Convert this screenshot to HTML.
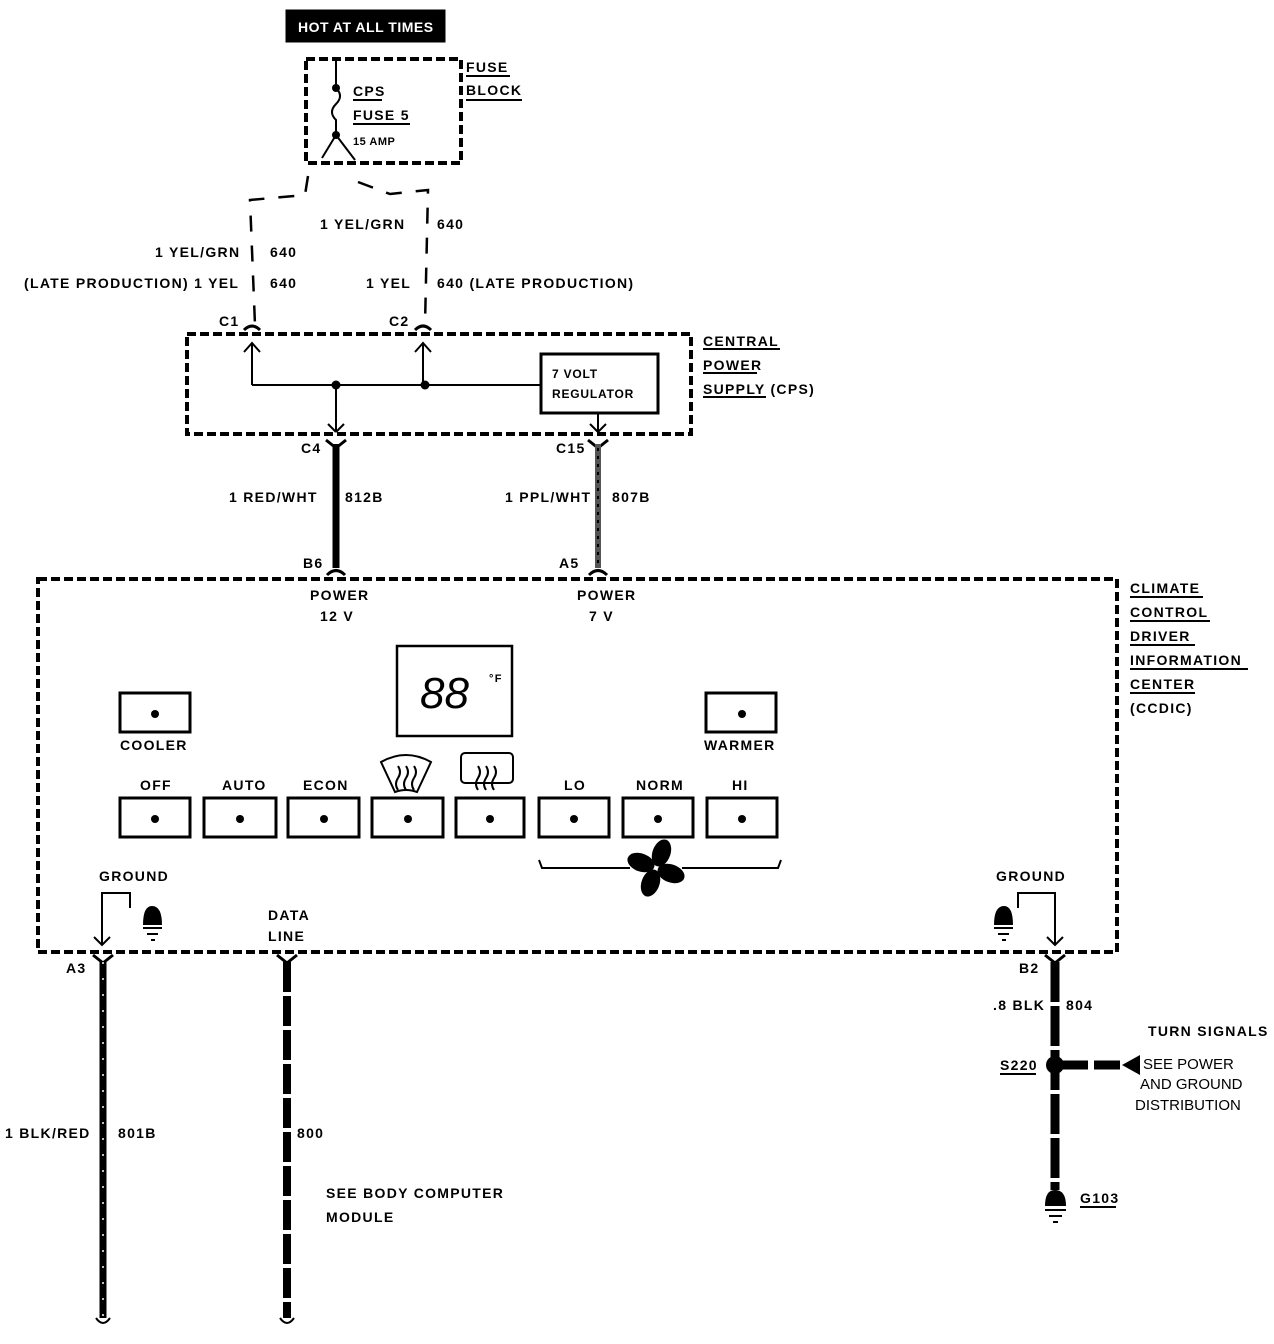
<!DOCTYPE html>
<html><head><meta charset="utf-8"><style>
html,body{margin:0;padding:0;background:#fff;}
svg{display:block}
text{font-family:"Liberation Sans",sans-serif;font-weight:bold;font-size:14px;letter-spacing:1.3px;fill:#000}
.n{font-weight:normal;font-size:15px;letter-spacing:0}
</style></head><body>
<svg width="1274" height="1344" viewBox="0 0 1274 1344" xmlns="http://www.w3.org/2000/svg">
<g fill="none" stroke="#000">
<rect x="286" y="10" width="159" height="32" fill="#000"/>
<rect x="306" y="59" width="155" height="104" stroke-width="4" stroke-dasharray="9,4"/>
<path d="M336 59 V88 M336 88 q8 8 0 16 q-8 8 0 16 V135 M336 135 L322 158 M336 135 L355 160" stroke-width="2"/>
<path d="M466 76 H510 M466 100 H522 M353 100 H382 M353 124 H410" stroke-width="2"/>
<path d="M308 176 L305 195 L250 200 L255 325 M358 182 L390 194 L428 190 L425 325" stroke-width="2.5" stroke-dasharray="16,14"/>
<path d="M244 330 q8 -8 16 0 M415 330 q8 -8 16 0" stroke-width="3"/>
<rect x="187" y="334" width="504" height="100" stroke-width="4" stroke-dasharray="9,4"/>
<path d="M252 385 V343 M244 352 L252 343 L260 352 M423 385 V343 M415 352 L423 343 L431 352 M252 385 H541 M336 385 V432 M328 424 L336 432 M344 424 L336 432 M598 413 V432 M590 424 L598 432 M606 424 L598 432" stroke-width="2"/>
<rect x="541" y="354" width="117" height="59" stroke-width="3"/>
<path d="M703 349 H780 M703 373 H757 M703 397 H766" stroke-width="2"/>
<path d="M326 440 L336 448 L346 440 M588 440 L598 448 L608 440" stroke-width="3"/>
<path d="M336 444 V568" stroke-width="7"/>
<path d="M598 444 V568" stroke="#555" stroke-width="6"/>
<path d="M598 448 V568" stroke="#000" stroke-width="2" stroke-dasharray="3,5"/>
<path d="M327 575 q9 -9 18 0 M589 575 q9 -9 18 0" stroke-width="3"/>
<rect x="38" y="579" width="1079" height="373" stroke-width="4" stroke-dasharray="9,4"/>
<path d="M1130 597 H1203 M1130 621 H1210 M1130 645 H1195 M1130 669 H1248 M1130 693 H1195" stroke-width="2"/>
<rect x="397" y="646" width="115" height="90" stroke-width="2.5"/>
<rect x="120" y="693" width="70" height="39" stroke-width="3"/>
<rect x="706" y="693" width="70" height="39" stroke-width="3"/>
<rect x="120" y="798" width="70" height="39" stroke-width="3"/>
<rect x="204" y="798" width="72" height="39" stroke-width="3"/>
<rect x="288" y="798" width="71" height="39" stroke-width="3"/>
<rect x="372" y="798" width="71" height="39" stroke-width="3"/>
<rect x="456" y="798" width="68" height="39" stroke-width="3"/>
<rect x="539" y="798" width="70" height="39" stroke-width="3"/>
<rect x="623" y="798" width="70" height="39" stroke-width="3"/>
<rect x="707" y="798" width="70" height="39" stroke-width="3"/>
<path d="M381 762 Q406 748 431 762 L417 792 Q406 788 395 792 Z" stroke-width="2"/>
<rect x="461" y="753" width="52" height="30" rx="4" stroke-width="2"/>
<path d="M398 790 q-4 -6 0 -12 q4 -6 0 -12 M406 790 q-4 -6 0 -12 q4 -6 0 -12 M414 790 q-4 -6 0 -12 q4 -6 0 -12 M478 790 q-4 -6 0 -12 q4 -6 0 -12 M486 790 q-4 -6 0 -12 q4 -6 0 -12 M494 790 q-4 -6 0 -12 q4 -6 0 -12" stroke-width="2"/>
<path d="M539 860 L542 868 H630 M682 868 H778 L781 860" stroke-width="2"/>
<path d="M102 945 V893 H130 V908 M94 937 L102 945 L110 937 M1055 945 V893 H1018 V908 M1047 937 L1055 945 L1063 937" stroke-width="2"/>
<path d="M143 928 H162 M147 934 H158 M151 940 H155 M994 928 H1013 M998 934 H1009 M1002 940 H1006 M1045 1210 H1066 M1049 1216 H1062 M1053 1222 H1058" stroke-width="2"/>
<path d="M93 955 L103 963 L113 955 M277 955 L287 963 L297 955 M1045 955 L1055 963 L1065 955" stroke-width="3"/>
<path d="M103 962 V1318" stroke-width="7"/>
<path d="M103 962 V1318" stroke="#fff" stroke-width="1.5" stroke-dasharray="2,14"/>
<path d="M287 962 V1318" stroke-width="8" stroke-dasharray="30,4"/>
<path d="M1055 962 V1190" stroke-width="9" stroke-dasharray="40,4"/>
<path d="M1062 1065 H1122" stroke-width="9" stroke-dasharray="26,6"/>
<path d="M96 1318 q7 10 14 0 M280 1318 q7 10 14 0" stroke-width="2"/>
<path d="M1000 1074 H1036 M1080 1207 H1116" stroke-width="2"/>
</g>
<g fill="#000">
<circle cx="336" cy="88" r="4"/><circle cx="336" cy="135" r="4"/>
<circle cx="336" cy="385" r="4.5"/><circle cx="425" cy="385" r="4.5"/>
<circle cx="155" cy="714" r="4"/><circle cx="742" cy="714" r="4"/>
<circle cx="155" cy="819" r="4"/><circle cx="240" cy="819" r="4"/><circle cx="324" cy="819" r="4"/><circle cx="408" cy="819" r="4"/><circle cx="490" cy="819" r="4"/><circle cx="574" cy="819" r="4"/><circle cx="658" cy="819" r="4"/><circle cx="742" cy="819" r="4"/>
<circle cx="1055" cy="1065" r="9"/>
<path d="M1122 1065 L1140 1055 V1075 Z"/>
<path d="M143 925 Q143 906 152 906 Q162 906 162 925 Z"/>
<path d="M994 925 Q994 906 1004 906 Q1013 906 1013 925 Z"/>
<path d="M1045 1206 Q1045 1190 1055 1190 Q1066 1190 1066 1206 Z"/>
<g transform="translate(656,868)">
<ellipse cx="0" cy="-16" rx="9" ry="14" transform="rotate(20)"/>
<ellipse cx="0" cy="-16" rx="9" ry="14" transform="rotate(110)"/>
<ellipse cx="0" cy="-16" rx="9" ry="14" transform="rotate(200)"/>
<ellipse cx="0" cy="-16" rx="9" ry="14" transform="rotate(290)"/>
</g>
</g>
<text x="298" y="32" style="fill:#fff;font-size:14px;letter-spacing:0.5px">HOT AT ALL TIMES</text>
<text x="466" y="72">FUSE</text><text x="466" y="95">BLOCK</text>
<text x="353" y="96">CPS</text><text x="353" y="120">FUSE 5</text><text x="353" y="145" style="font-size:11px;letter-spacing:0.5px">15 AMP</text>
<text x="155" y="257">1 YEL/GRN</text><text x="270" y="257">640</text>
<text x="24" y="288">(LATE PRODUCTION) 1 YEL</text><text x="270" y="288">640</text>
<text x="320" y="229">1 YEL/GRN</text><text x="437" y="229">640</text>
<text x="366" y="288">1 YEL</text><text x="437" y="288">640 (LATE PRODUCTION)</text>
<text x="219" y="326">C1</text><text x="389" y="326">C2</text>
<text x="703" y="346">CENTRAL</text><text x="703" y="370">POWER</text><text x="703" y="394">SUPPLY (CPS)</text>
<text x="552" y="378" style="font-size:12px;letter-spacing:0.8px">7 VOLT</text><text x="552" y="398" style="font-size:12px;letter-spacing:0.8px">REGULATOR</text>
<text x="301" y="453">C4</text><text x="556" y="453">C15</text>
<text x="229" y="502">1 RED/WHT</text><text x="345" y="502">812B</text>
<text x="505" y="502">1 PPL/WHT</text><text x="612" y="502">807B</text>
<text x="303" y="568">B6</text><text x="559" y="568">A5</text>
<text x="310" y="600">POWER</text><text x="320" y="621">12 V</text>
<text x="577" y="600">POWER</text><text x="589" y="621">7 V</text>
<text x="1130" y="593">CLIMATE</text><text x="1130" y="617">CONTROL</text><text x="1130" y="641">DRIVER</text><text x="1130" y="665">INFORMATION</text><text x="1130" y="689">CENTER</text><text x="1130" y="713">(CCDIC)</text>
<text x="420" y="708" style="font-size:44px;font-weight:normal;font-style:italic;letter-spacing:0">88</text>
<text x="489" y="682" style="font-size:11px">°F</text>
<text x="120" y="750">COOLER</text><text x="704" y="750">WARMER</text>
<text x="140" y="790">OFF</text><text x="222" y="790">AUTO</text><text x="303" y="790">ECON</text><text x="564" y="790">LO</text><text x="636" y="790">NORM</text><text x="732" y="790">HI</text>
<text x="99" y="881">GROUND</text><text x="996" y="881">GROUND</text>
<text x="268" y="920">DATA</text><text x="268" y="941">LINE</text>
<text x="66" y="973">A3</text><text x="1019" y="973">B2</text>
<text x="5" y="1138">1 BLK/RED</text><text x="118" y="1138">801B</text>
<text x="297" y="1138">800</text>
<text x="326" y="1198">SEE BODY COMPUTER</text><text x="326" y="1222">MODULE</text>
<text x="993" y="1010">.8 BLK</text><text x="1066" y="1010">804</text>
<text x="1148" y="1036">TURN SIGNALS</text>
<text x="1000" y="1070">S220</text>
<text class="n" x="1143" y="1069">SEE POWER</text><text class="n" x="1140" y="1089">AND GROUND</text><text class="n" x="1135" y="1110">DISTRIBUTION</text>
<text x="1080" y="1203">G103</text>
</svg>
</body></html>
